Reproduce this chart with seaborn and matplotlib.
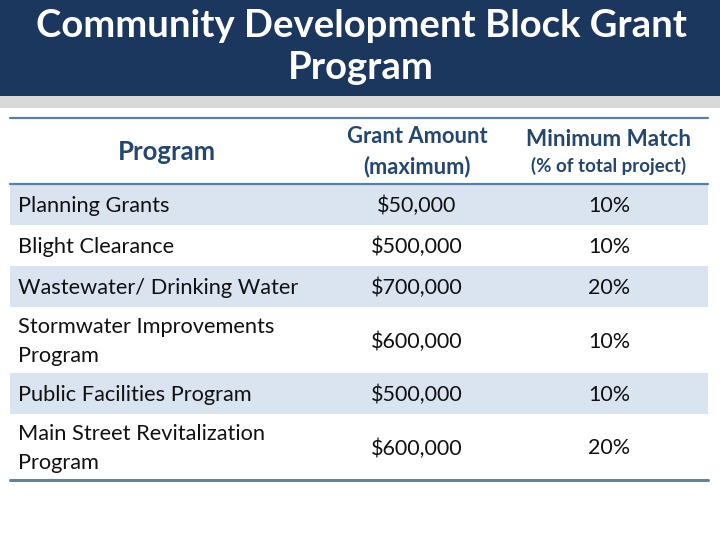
import matplotlib
matplotlib.use("Agg")
import matplotlib.pyplot as plt
from matplotlib.patches import Rectangle
import seaborn as sns

# table content
title_lines = ["Community Development Block Grant", "Program"]
headers = ["Program", "Grant Amount\n(maximum)", "Minimum Match"]
header_note = "(% of total project)"
programs = ["Planning Grants", "Blight Clearance", "Wastewater/ Drinking Water",
            "Stormwater Improvements\nProgram", "Public Facilities Program",
            "Main Street Revitalization\nProgram"]
grant_amounts = [50000, 500000, 700000, 600000, 500000, 600000]
min_match = [10, 10, 20, 10, 10, 20]

sns.set_theme(style="white")
plt.rcParams['font.family'] = ['Lato', 'DejaVu Sans']

navy = '#1c375e'
band = '#d9d9d9'
shade = '#dae3f0'
rule = '#5b80a8'
rule_bottom = '#6b8090'
head_col = '#24466f'

fig = plt.figure(figsize=(7.2, 5.4), dpi=100)
ax = fig.add_axes([0, 0, 1, 1])
ax.set_xlim(0, 720)
ax.set_ylim(540, 0)
ax.axis('off')

# title banner
ax.add_patch(Rectangle((0, 0), 720, 96, color=navy, lw=0))
ax.add_patch(Rectangle((0, 96), 720, 12, color=band, lw=0))
ax.text(361, 26, title_lines[0], color='white', fontsize=27.5, fontweight='bold',
        ha='center', va='center')
ax.text(361, 68, title_lines[1], color='white', fontsize=27.5, fontweight='bold',
        ha='center', va='center')

left, right = 10, 708
col_x = [18, 417, 609]

# header
ax.plot([left, right], [118, 118], color=rule, lw=1.6)
ax.text(167, 152, headers[0], color=head_col, fontsize=18.5,
        fontweight='bold', ha='center', va='center')
ax.text(col_x[1], 152, headers[1], color=head_col, fontsize=15.8,
        fontweight='bold', ha='center', va='center', linespacing=1.5)
ax.text(col_x[2], 140, headers[2], color=head_col, fontsize=16.2,
        fontweight='bold', ha='center', va='center')
ax.text(col_x[2], 166, header_note, color=head_col, fontsize=13.5,
        fontweight='bold', ha='center', va='center')

# body rows
y = 184
for i, (prog, amt, pct) in enumerate(zip(programs, grant_amounts, min_match)):
    n_lines = prog.count('\n') + 1
    h = 41 if n_lines == 1 else 66
    if i % 2 == 0:
        ax.add_patch(Rectangle((left, y), right - left, h, color=shade, lw=0))
    yc = y + h / 2 + 1.5
    ax.text(col_x[0], yc, prog, color='#111111', fontsize=15.7,
            ha='left', va='center', linespacing=1.55)
    ax.text(col_x[1], yc, f"${amt:,}", color='#111111', fontsize=15.5,
            ha='center', va='center')
    ax.text(col_x[2], yc, f"{pct}%", color='#111111', fontsize=15.5,
            ha='center', va='center')
    y += h

ax.plot([left, right], [184, 184], color=rule, lw=1.6)
ax.plot([left, right], [y, y], color=rule_bottom, lw=2.2)

fig.savefig('out.png', dpi=100)
